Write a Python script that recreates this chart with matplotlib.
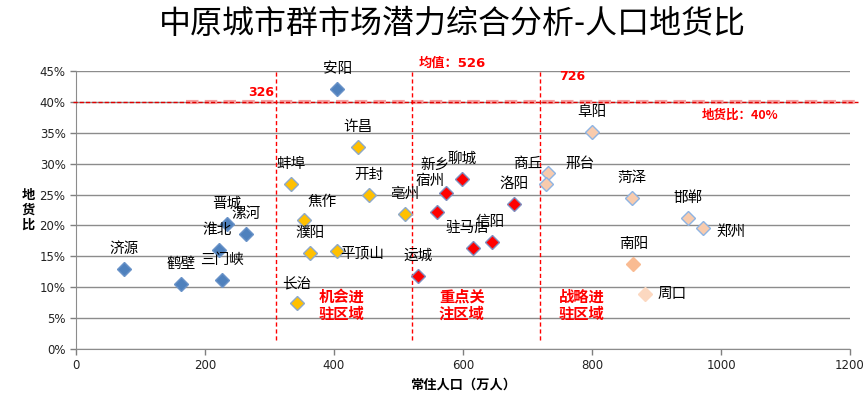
import matplotlib
matplotlib.use('Agg')
import matplotlib.pyplot as plt

plt.rcParams['font.family'] = ['DejaVu Sans', 'Noto Sans CJK SC']

# city data: population (10k people) and land-to-goods ratio
cities = ['安阳', '许昌', '蚌埠', '开封', '焦作', '亳州', '濮阳', '平顶山', '长治',
          '晋城', '漯河', '淮北', '三门峡', '济源', '鹤壁',
          '聊城', '新乡', '宿州', '洛阳', '驻马店', '信阳', '运城',
          '商丘', '邢台', '阜阳', '菏泽', '邯郸', '郑州', '南阳', '周口']
population = [405, 437, 333, 454, 353, 510, 363, 405, 343,
              234, 264, 222, 226, 74, 163,
              598, 574, 560, 679, 615, 645, 530,
              732, 729, 800, 862, 949, 972, 864, 882]
ratio = [0.421, 0.327, 0.267, 0.249, 0.209, 0.218, 0.155, 0.159, 0.074,
         0.202, 0.186, 0.160, 0.112, 0.129, 0.105,
         0.275, 0.252, 0.222, 0.235, 0.163, 0.173, 0.118,
         0.285, 0.267, 0.351, 0.244, 0.212, 0.196, 0.137, 0.089]
group = ['blue'] * 1 + ['gold'] * 8 + ['blue'] * 6 + ['red'] * 7 + ['pink'] * 6 + ['peach', 'lightpeach']

zone_lines = [310, 521, 719]
zone_line_labels = ['326', '均值：526', '726']
zone_names = ['机会进\n驻区域', '重点关\n注区域', '战略进\n驻区域']
zone_name_x = [411, 598, 784]
ratio_line = 0.40

styles = {
    'blue': dict(fc='#4F81BD', ec='#6A93C8'),
    'gold': dict(fc='#FFC000', ec='#8EA9C8'),
    'red': dict(fc='#FF0000', ec='#7F8FC0'),
    'pink': dict(fc='#F8CBAD', ec='#8EB4E3'),
    'peach': dict(fc='#F9BB92', ec='#F9BB92'),
    'lightpeach': dict(fc='#FCD8C0', ec='#FCD8C0'),
}

# label offsets in pixels (dx, dy) relative to the marker
label_offsets = {
    '焦作': (18, 18), '平顶山': (25, -3), '新乡': (-11, 28), '宿州': (-7, 31),
    '驻马店': (-5, 20), '信阳': (-2, 20), '商丘': (-20, 9), '邢台': (34, 20),
    '郑州': (28, -4), '周口': (27, 0), '淮北': (-2, 20),
}

fig = plt.figure(figsize=(8.68, 3.99), dpi=100)
ax = fig.add_axes([76 / 868, 1 - 349 / 399, (850 - 76) / 868, (349 - 71) / 399])

ax.set_xlim(0, 1200)
ax.set_ylim(0, 0.45)
ax.set_xticks(range(0, 1201, 200))
ax.set_yticks([i * 0.05 for i in range(10)])
ax.set_yticklabels(['%d%%' % (i * 5) for i in range(10)])
ax.tick_params(axis='both', labelsize=8.5, colors='#7F7F7F', labelcolor='#222222',
               direction='out', length=4, width=1)
ax.yaxis.grid(True, color='#8C8C8C', linewidth=1)
ax.set_axisbelow(True)
for side in ['top', 'right']:
    ax.spines[side].set_visible(False)
for side in ['left', 'bottom']:
    ax.spines[side].set_color('#8C8C8C')

for c, x, y, g in zip(cities, population, ratio, group):
    st = styles[g]
    ax.plot(x, y, marker='D', ms=7, mfc=st['fc'], mec=st['ec'], mew=1, ls='none', zorder=4)
    dx, dy = label_offsets.get(c, (0, 20))
    ax.annotate(c, (x, y), xytext=(dx, dy), textcoords='offset pixels',
                ha='center', va='center', fontsize=10.5, family=['Noto Sans CJK SC'], zorder=5)

# 40% line
ax.plot([170, 1212], [ratio_line, ratio_line], color='#F4A0A0', lw=3, ls=(0, (3, 1.5)),
        clip_on=False, zorder=2)
ax.plot([-5, 1212], [ratio_line, ratio_line], color='#E00000', lw=1, ls=(0, (3, 1.5)),
        clip_on=False, zorder=3)
ax.text(1030, 0.378, '地货比：40%', color='#FF0000', fontsize=9, fontweight='bold',
        ha='center', va='center', family=['Noto Sans CJK SC'])

for xv, name, nx in zip(zone_lines, zone_names, zone_name_x):
    ax.plot([xv, xv], [0.015, 0.45], color='#FF0000', lw=1, ls=(0, (3, 2)), zorder=3)
    ax.text(nx, 0.071, name, color='#FF0000', fontsize=11, fontweight='bold',
            ha='center', va='center', linespacing=1.1, family=['Noto Sans CJK SC'])

ax.text(308, 0.415, zone_line_labels[0], color='#FF0000', fontsize=9, fontweight='bold',
        ha='right', va='center')
ax.text(583, 0.463, zone_line_labels[1], color='#FF0000', fontsize=9.5, fontweight='bold',
        ha='center', va='center', clip_on=False, family=['DejaVu Sans', 'Noto Sans CJK SC'])
ax.text(770, 0.441, zone_line_labels[2], color='#FF0000', fontsize=9, fontweight='bold',
        ha='center', va='center')

ax.set_xlabel('常住人口（万人）', fontsize=9.5, fontweight='bold', labelpad=4,
              family=['Noto Sans CJK SC'])
fig.text(28 / 868, 1 - 210 / 399, '地\n货\n比', fontsize=9.5, fontweight='bold',
         ha='center', va='center', linespacing=1.1, family=['Noto Sans CJK SC'])

fig.text(452 / 868, 1 - 24 / 399, '中原城市群市场潜力综合分析-人口地货比', fontsize=23,
         ha='center', va='center', family=['Noto Sans CJK SC'])

fig.savefig('out.png', dpi=100)
